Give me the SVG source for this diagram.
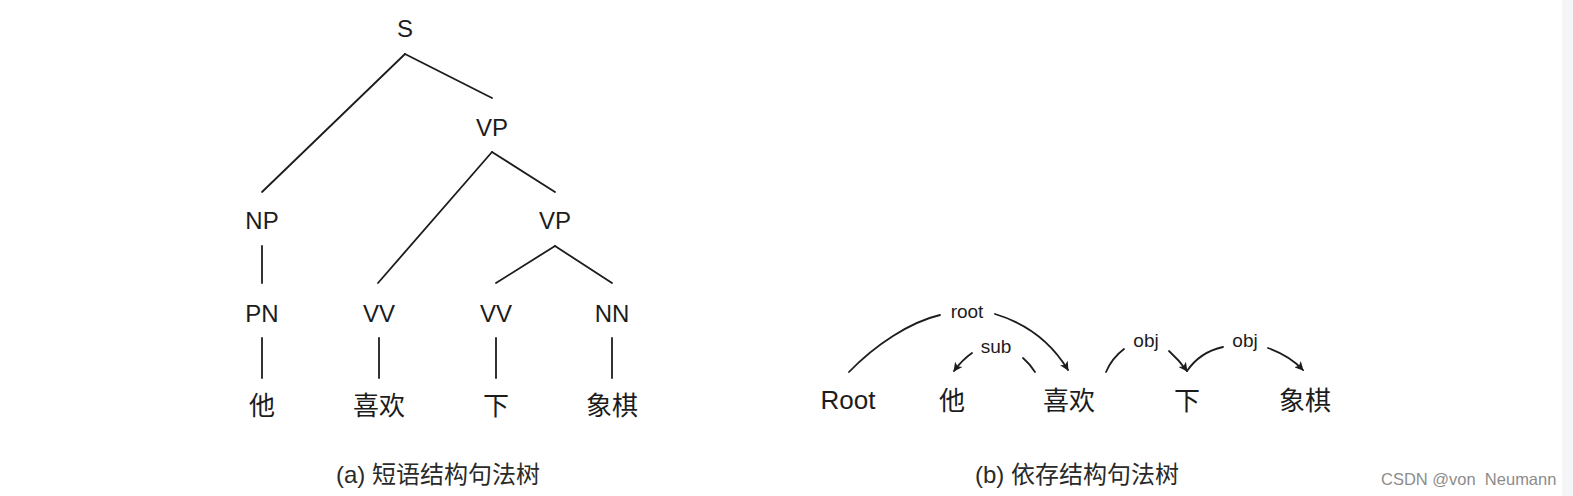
<svg xmlns="http://www.w3.org/2000/svg" width="1573" height="496" viewBox="0 0 1573 496">
<style>
.t{font-family:"Liberation Sans","Noto Sans CJK SC",sans-serif;font-size:24px;fill:#1c1c1c;text-anchor:middle}
.w{font-family:"Liberation Sans","Noto Sans CJK SC",sans-serif;font-size:26px;fill:#1c1c1c;text-anchor:middle}
.l{font-family:"Liberation Sans",sans-serif;font-size:19px;fill:#1c1c1c;text-anchor:middle}
.cap{font-family:"Liberation Sans","Noto Sans CJK SC",sans-serif;font-size:24px;fill:#2a2a2a}
.wm{font-family:"Liberation Sans",sans-serif;font-size:16.5px;fill:#8c8c8c;white-space:pre}
.e{fill:none;stroke:#1c1c1c;stroke-width:1.8;stroke-linecap:round}
</style>
<defs>
<marker id="ah" viewBox="0 0 10 10" refX="9" refY="5" markerWidth="11" markerHeight="9" markerUnits="userSpaceOnUse" orient="auto">
<path d="M0,0 L10,5 L0,10 L2.5,5 z" fill="#1c1c1c"/>
</marker>
</defs>
<rect width="1573" height="496" fill="#ffffff"/>
<rect x="1562" y="0" width="11" height="496" fill="#f4f5f7"/>

<g id="connectors">
<line class="e" x1="405" y1="54" x2="262" y2="192"/>
<line class="e" x1="405" y1="54" x2="492" y2="98"/>
<line class="e" x1="492" y1="152" x2="378" y2="283"/>
<line class="e" x1="492" y1="152" x2="555" y2="192"/>
<line class="e" x1="555" y1="246" x2="496" y2="283"/>
<line class="e" x1="555" y1="246" x2="612" y2="283"/>
<line class="e" x1="262" y1="246" x2="262" y2="283"/>
<line class="e" x1="262" y1="338" x2="262" y2="378"/>
<line class="e" x1="379" y1="338" x2="379" y2="378"/>
<line class="e" x1="496" y1="338" x2="496" y2="378"/>
<line class="e" x1="612" y1="338" x2="612" y2="378"/>

<path class="e" d="M849,372 C875,345 910,322 940,315"/>
<path class="e" d="M995,314 C1025,323 1050,340 1068,370" marker-end="url(#ah)"/>
<path class="e" d="M1035,372 Q1030,364 1023,358"/>
<path class="e" d="M972,353 Q962,360 954,371" marker-end="url(#ah)"/>
<path class="e" d="M1106,372 Q1112,358 1124,349"/>
<path class="e" d="M1169,351 Q1179,360 1187,371" marker-end="url(#ah)"/>
<path class="e" d="M1187,371 Q1200,352 1223,347"/>
<path class="e" d="M1268,348 Q1290,356 1303,370" marker-end="url(#ah)"/>
</g>

<g id="n-S"><text class="t" x="405" y="37">S</text></g>
<g id="n-VP1"><text class="t" x="492" y="136">VP</text></g>
<g id="n-NP"><text class="t" x="262" y="229">NP</text></g>
<g id="n-VP2"><text class="t" x="555" y="229">VP</text></g>
<g id="n-PN"><text class="t" x="262" y="322">PN</text></g>
<g id="n-VV1"><text class="t" x="379" y="322">VV</text></g>
<g id="n-VV2"><text class="t" x="496" y="322">VV</text></g>
<g id="n-NN"><text class="t" x="612" y="322">NN</text></g>
<g id="n-ta"><text class="w" x="262" y="415">他</text></g>
<g id="n-xihuan"><text class="w" x="379" y="415">喜欢</text></g>
<g id="n-xia"><text class="w" x="496" y="415">下</text></g>
<g id="n-xiangqi"><text class="w" x="612" y="415">象棋</text></g>

<g id="d-Root"><text class="t" x="848" y="409" style="font-size:26px">Root</text></g>
<g id="d-ta"><text class="w" x="952" y="410">他</text></g>
<g id="d-xihuan"><text class="w" x="1069" y="410">喜欢</text></g>
<g id="d-xia"><text class="w" x="1187" y="410">下</text></g>
<g id="d-xiangqi"><text class="w" x="1305" y="410">象棋</text></g>

<g id="labels">
<text class="l" x="967" y="318">root</text>
<text class="l" x="996" y="353">sub</text>
<text class="l" x="1146" y="347">obj</text>
<text class="l" x="1245" y="347">obj</text>
</g>

<g id="captions">
<text class="cap" x="336" y="483">(a) 短语结构句法树</text>
<text class="cap" x="975" y="483">(b) 依存结构句法树</text>
<text class="wm" x="1381" y="485">CSDN @von  Neumann</text>
</g>
</svg>
